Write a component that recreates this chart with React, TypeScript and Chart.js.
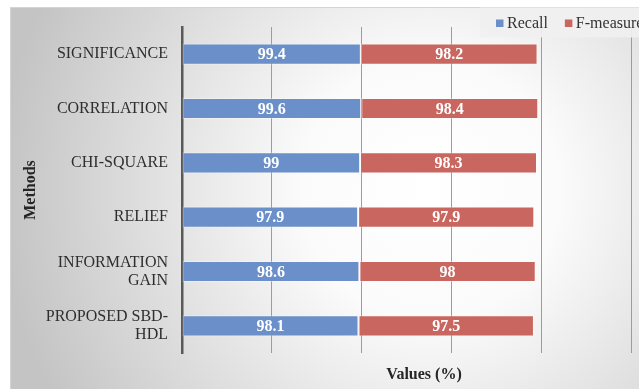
import { useEffect, useRef } from "react";
import { Chart, registerables } from "chart.js";

Chart.register(...registerables);

// Methods on the category axis (multi-line names as arrays)
const methods: (string | string[])[] = [
  "SIGNIFICANCE",
  "CORRELATION",
  "CHI-SQUARE",
  "RELIEF",
  ["INFORMATION", "GAIN"],
  ["PROPOSED SBD-", "HDL"],
];

const recall = [99.4, 99.6, 99, 97.9, 98.6, 98.1];
const fMeasure = [98.2, 98.4, 98.3, 97.9, 98, 97.5];

const seriesNames = ["Recall", "F-measure"];
const seriesColors = ["#6a8fc9", "#c9665f"];

const xTitle = "Values (%)";
const yTitle = "Methods";
const xMax = 269;
const xStep = 50;

const SERIF = "'Liberation Serif', 'Times New Roman', serif";

// Paints the framed radial-gradient background behind everything
const backgroundPlugin = {
  id: "frameBackground",
  beforeDraw(chart: Chart) {
    const { ctx, width, height } = chart;
    ctx.save();
    ctx.fillStyle = "#ffffff";
    ctx.fillRect(0, 0, width, height);
    const g = ctx.createRadialGradient(430, 190, 0, 430, 190, 430);
    g.addColorStop(0, "#ffffff");
    g.addColorStop(0.3, "#fbfbfb");
    g.addColorStop(1, "#c4c4c4");
    ctx.fillStyle = g;
    ctx.fillRect(10.5, 7, width - 10.5, height - 7);
    ctx.strokeStyle = "#d4d4d4";
    ctx.lineWidth = 1;
    ctx.strokeRect(10.5, 7.5, width, height);
    ctx.restore();
  },
};

// White value labels centred in every bar segment
const valueLabelPlugin = {
  id: "segmentValues",
  afterDatasetsDraw(chart: Chart) {
    const { ctx } = chart;
    ctx.save();
    ctx.font = `bold 16px ${SERIF}`;
    ctx.fillStyle = "#ffffff";
    ctx.textAlign = "center";
    ctx.textBaseline = "middle";
    chart.data.datasets.forEach((ds, di) => {
      const meta = chart.getDatasetMeta(di);
      meta.data.forEach((el: any, i: number) => {
        const { x, base, y } = el.getProps(["x", "base", "y"], true);
        ctx.fillText(String(ds.data[i]), (x + base) / 2, y + 1);
      });
    });
    ctx.restore();
  },
};

// Legend panel in the top-right corner
const legendPlugin = {
  id: "cornerLegend",
  afterDraw(chart: Chart) {
    const { ctx, width } = chart;
    ctx.save();
    ctx.fillStyle = "rgba(240,240,240,0.92)";
    ctx.fillRect(480, 7.5, width - 480, 30);
    ctx.font = `16px ${SERIF}`;
    ctx.textBaseline = "middle";
    ctx.textAlign = "left";
    let x = 496;
    const cy = 23;
    chart.data.datasets.forEach((ds) => {
      ctx.fillStyle = ds.backgroundColor as string;
      ctx.fillRect(x, cy - 3.5, 7.5, 7.5);
      x += 11;
      ctx.fillStyle = "#333333";
      const label = String(ds.label);
      ctx.fillText(label, x, cy + 1);
      x += ctx.measureText(label).width + 17;
    });
    ctx.restore();
  },
};

export default function App() {
  const canvasRef = useRef<HTMLCanvasElement | null>(null);

  useEffect(() => {
    if (!canvasRef.current) return;
    const chart = new Chart(canvasRef.current, {
      type: "bar",
      data: {
        labels: methods,
        datasets: [
          {
            label: seriesNames[0],
            data: recall,
            backgroundColor: seriesColors[0],
            borderColor: "rgba(255,255,255,0.35)",
            borderWidth: 1,
            borderSkipped: false,
          },
          {
            label: seriesNames[1],
            data: fMeasure,
            backgroundColor: seriesColors[1],
            borderColor: "rgba(255,255,255,0.35)",
            borderWidth: 1,
            borderSkipped: false,
          },
        ],
      },
      options: {
        indexAxis: "y",
        responsive: false,
        animation: false,
        layout: { padding: { left: 0, top: 27, right: 6, bottom: 0 } },
        datasets: { bar: { barPercentage: 0.39, categoryPercentage: 1 } },
        plugins: {
          legend: { display: false },
          tooltip: { enabled: false },
        },
        scales: {
          x: {
            stacked: true,
            min: 0,
            max: xMax,
            ticks: { display: false, stepSize: xStep },
            grid: { color: "#9c9c9c", lineWidth: 1, drawTicks: false, tickLength: 0 },
            border: { display: false },
            title: {
              display: true,
              text: xTitle,
              color: "#262626",
              font: { family: SERIF, size: 16, weight: "bold" },
              padding: { top: 0, bottom: 5 },
            },
            afterFit(scale: any) {
              scale.height = 36;
            },
          },
          y: {
            stacked: true,
            ticks: {
              color: "#2e2e2e",
              padding: 0,
              font: { family: SERIF, size: 16, lineHeight: 1.15 },
            },
            // grid lines hidden; tick length only sets the label gap
            grid: { display: false, drawTicks: true, tickLength: 14 },
            border: { display: true, color: "#595959", width: 2.5 },
            title: {
              display: true,
              text: yTitle,
              color: "#262626",
              font: { family: SERIF, size: 16, weight: "bold" },
              padding: { top: 21, bottom: 0 },
            },
            afterFit(scale: any) {
              scale.width = 182;
            },
          },
        },
      },
      plugins: [backgroundPlugin, valueLabelPlugin, legendPlugin],
    });
    return () => chart.destroy();
  }, []);

  return (
    <div
      style={{
        position: "fixed",
        left: 0,
        top: 0,
        width: 639,
        height: 389,
        overflow: "hidden",
        background: "#ffffff",
      }}
    >
      <canvas ref={canvasRef} width={672} height={389} style={{ display: "block" }} />
    </div>
  );
}
